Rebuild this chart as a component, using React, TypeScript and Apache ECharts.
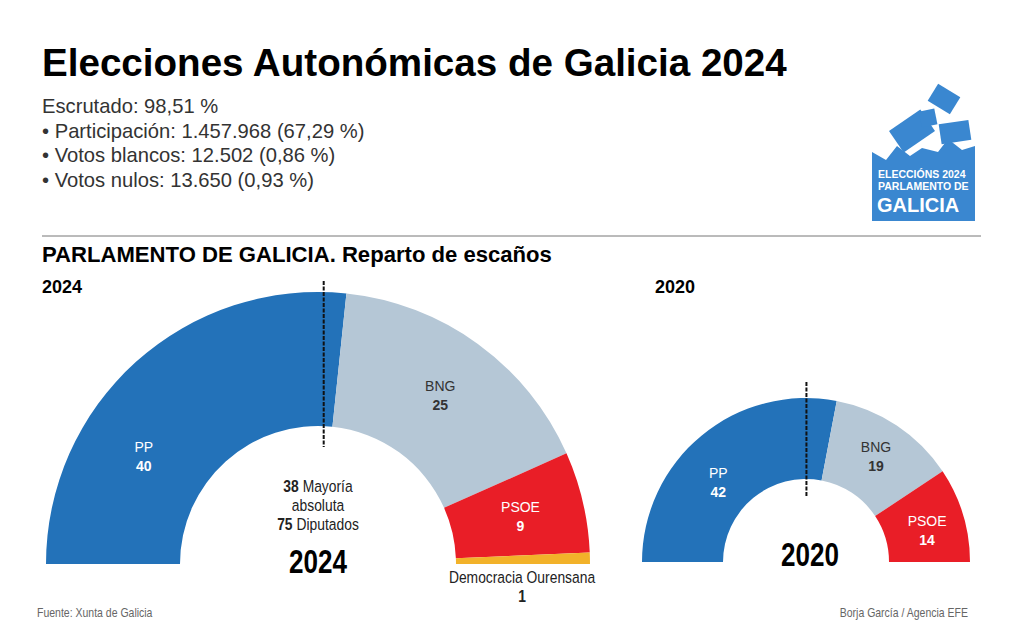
import React, { useEffect, useRef } from "react";
import * as echarts from "echarts";

const parties2024 = ["PP", "BNG", "PSOE", "Democracia Ourensana"];
const seats2024 = [40, 25, 9, 1];
const parties2020 = ["PP", "BNG", "PSOE"];
const seats2020 = [42, 19, 14];
const partyColors: Record<string, string> = {
  PP: "#2372B9",
  BNG: "#B5C7D6",
  PSOE: "#E91E27",
  "Democracia Ourensana": "#F2B22A",
};
const labelColors: Record<string, string> = {
  PP: "#ffffff",
  BNG: "#333333",
  PSOE: "#ffffff",
  "Democracia Ourensana": "#222222",
};
const majority = 38;
const totalSeats = 75;
const infoLines = [
  "Escrutado: 98,51 %",
  "• Participación: 1.457.968 (67,29 %)",
  "• Votos blancos: 12.502 (0,86 %)",
  "• Votos nulos: 13.650 (0,93 %)",
];

const NARROW = "'Liberation Sans Narrow', 'Arial Narrow', 'Liberation Sans', Arial, sans-serif";
const SANS = "'Liberation Sans', Arial, Helvetica, sans-serif";

function pieSeries(
  names: string[], vals: number[], cx: number, cy: number, r0: number, r1: number,
  shifts: Record<string, [number, number]>
) {
  return {
    type: "pie",
    center: [cx, cy],
    radius: [r0, r1],
    startAngle: 180,
    endAngle: 0,
    clockwise: true,
    silent: true,
    avoidLabelOverlap: false,
    labelLine: { show: false },
    itemStyle: { borderWidth: 0 },
    labelLayout: (p: any) => {
      const s = shifts[names[p.dataIndex]];
      return s ? { dx: s[0], dy: s[1] } : {};
    },
    data: names.map((n, i) => ({
      name: n,
      value: vals[i],
      itemStyle: { color: partyColors[n] },
      label: {
        show: n !== "Democracia Ourensana",
        position: "inside",
        formatter: "{n|{b}}\n{v|{c}}",
        rich: {
          n: { color: labelColors[n], fontSize: 14, fontFamily: NARROW, lineHeight: 19 },
          v: { color: labelColors[n], fontSize: 14, fontWeight: "bold", fontFamily: NARROW, lineHeight: 19 },
        },
      },
    })),
  };
}

function majorityX(cx: number, r: number) {
  return cx + r * Math.sin((majority / totalSeats - 0.5) * Math.PI);
}

function narrowText(text: string, x: number, y: number, size: number, opts: any = {}) {
  return {
    type: "text",
    x, y,
    scaleX: opts.scaleX ?? 0.84,
    z: 50,
    style: {
      text, x: 0, y: 0,
      textAlign: opts.align ?? "center",
      textVerticalAlign: "middle",
      fontSize: size,
      fontWeight: opts.bold ? "bold" : "normal",
      fontFamily: NARROW,
      fill: opts.fill ?? "#222",
      lineHeight: opts.lineHeight,
      rich: opts.rich,
    },
  };
}

export default function App() {
  const ref = useRef<HTMLDivElement>(null);
  useEffect(() => {
    if (!ref.current) return;
    const chart = echarts.init(ref.current, undefined, { renderer: "svg" });
    const c24 = { x: 318, y: 564, r0: 138, r1: 272 };
    const c20 = { x: 806, y: 562, r0: 83, r1: 164 };
    const boldRich = { b: { fontWeight: "bold", fontSize: 16.5, fontFamily: NARROW, fill: "#222", lineHeight: 19 } };
    const graphics: any[] = [
      {
        type: "text",
        style: { text: "Elecciones Autonómicas de Galicia 2024", x: 42, y: 62, fontSize: 38.6, fontWeight: "bold", fontFamily: SANS, fill: "#000", textVerticalAlign: "middle" },
      },
      ...infoLines.map((t, i) => ({
        type: "text",
        style: { text: t, x: 42, y: 106 + i * 24.5, fontSize: 20.2, fontFamily: SANS, fill: "#333", textVerticalAlign: "middle" },
      })),
      { type: "line", shape: { x1: 42, y1: 236, x2: 981, y2: 236 }, style: { stroke: "#777", lineWidth: 1 } },
      {
        type: "text",
        style: { text: "PARLAMENTO DE GALICIA. Reparto de escaños", x: 42, y: 254, fontSize: 22.1, fontWeight: "bold", fontFamily: SANS, fill: "#000", textVerticalAlign: "middle" },
      },
      { type: "text", style: { text: "2024", x: 42, y: 287, fontSize: 18, fontWeight: "bold", fontFamily: SANS, fill: "#000", textVerticalAlign: "middle" } },
      { type: "text", style: { text: "2020", x: 655, y: 287, fontSize: 18, fontWeight: "bold", fontFamily: SANS, fill: "#000", textVerticalAlign: "middle" } },
      // majority lines
      {
        type: "line", z: 100,
        shape: { x1: majorityX(c24.x, c24.r1), y1: 281, x2: majorityX(c24.x, c24.r1), y2: 447 },
        style: { stroke: "#111", lineWidth: 2, lineDash: [4, 1.5] },
      },
      {
        type: "line", z: 100,
        shape: { x1: majorityX(c20.x, c20.r1) - 3, y1: 382, x2: majorityX(c20.x, c20.r1) - 3, y2: 497 },
        style: { stroke: "#111", lineWidth: 2, lineDash: [4, 1.5] },
      },
      narrowText(`{b|${majority}} Mayoría\nabsoluta\n{b|${totalSeats}} Diputados`, 318, 505, 16.5, { lineHeight: 19, rich: boldRich }),
      narrowText("2024", 318, 561, 33, { bold: true, fill: "#000", scaleX: 0.79 }),
      narrowText("2020", 810, 554, 33, { bold: true, fill: "#000", scaleX: 0.79 }),
      narrowText(`${parties2024[3]}\n{b|${seats2024[3]}}`, 522, 587, 16.5, { lineHeight: 19, rich: boldRich }),
      narrowText("Fuente: Xunta de Galicia", 37, 613, 12.5, { align: "left", fill: "#666" }),
      narrowText("Borja García / Agencia EFE", 968, 613, 12.5, { align: "right", fill: "#666" }),
      // logo
      {
        type: "polygon",
        shape: { points: [[872, 221], [975, 221], [975, 146], [962, 150], [948, 139], [938, 152], [922, 148], [910, 156], [897, 146], [886, 160], [872, 152]] },
        style: { fill: "#3A87D0" },
      },
      { type: "rect", x: 944, y: 99, rotation: -0.55, shape: { x: -13, y: -10, width: 26, height: 20 }, style: { fill: "#3A87D0" } },
      { type: "rect", x: 912, y: 131, rotation: 0.6, shape: { x: -19, y: -13, width: 38, height: 26 }, style: { fill: "#3A87D0" } },
      { type: "rect", x: 955, y: 132, rotation: 0.15, shape: { x: -15, y: -10, width: 30, height: 20 }, style: { fill: "#3A87D0" } },
      { type: "rect", x: 928, y: 118, rotation: 0.2, shape: { x: -8, y: -8, width: 16, height: 16 }, style: { fill: "#3A87D0" } },
      { type: "text", style: { text: "ELECCIÓNS 2024", x: 878, y: 173.5, fontSize: 10.5, fontWeight: "bold", fontFamily: SANS, fill: "#fff", textVerticalAlign: "middle" } },
      { type: "text", style: { text: "PARLAMENTO DE", x: 878, y: 186, fontSize: 10.5, fontWeight: "bold", fontFamily: SANS, fill: "#fff", textVerticalAlign: "middle" } },
      { type: "text", style: { text: "GALICIA", x: 877, y: 205, fontSize: 20, fontWeight: "bold", fontFamily: SANS, fill: "#fff", textVerticalAlign: "middle" } },
    ];
    chart.setOption({
      animation: false,
      backgroundColor: "#ffffff",
      series: [
        pieSeries(parties2024, seats2024, c24.x, c24.y, c24.r0, c24.r1, { PP: [-35, 47] }),
        pieSeries(parties2020, seats2020, c20.x, c20.y, c20.r0, c20.r1, { PP: [-7, 18], PSOE: [0, 5] }),
      ],
      graphic: graphics,
    });
    return () => chart.dispose();
  }, []);
  return <div ref={ref} style={{ position: "fixed", left: 0, top: 0, width: 1023, height: 630 }} />;
}
